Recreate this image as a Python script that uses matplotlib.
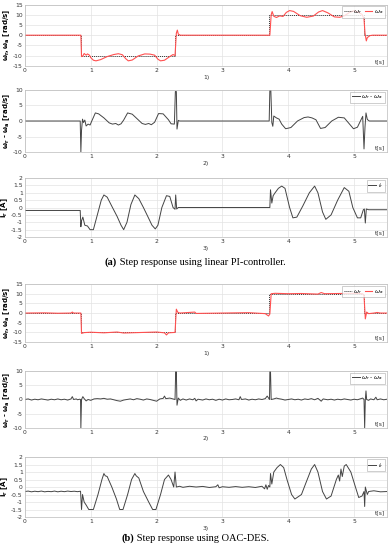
import numpy as np
import matplotlib
matplotlib.use("Agg")
import matplotlib.pyplot as plt

# reference speed (same for both experiments): (t, value) break points
w_ref = [(0, 0), (0.845, 0), (0.845, -10), (2.285, -10), (2.285, 0),
         (3.705, 0), (3.705, 10), (5.145, 10), (5.145, 0), (5.5, 0)]

# (a) linear PI-controller
wa_pi = [(0, 0), (0.85, 0), (0.86, -10.5), (0.88, -10.2), (0.9, -9), (0.93, -9.8),
         (0.95, -9.2), (0.98, -9.8), (1.0, -11), (1.04, -12.3), (1.08, -12.6),
         (1.15, -12.0), (1.25, -10.5), (1.35, -9.5), (1.42, -9.1), (1.48, -9.6),
         (1.53, -11.5), (1.57, -12.6), (1.63, -12.2), (1.72, -10.2), (1.82, -9.2),
         (1.9, -9.3), (1.97, -9.8), (2.02, -11.8), (2.06, -12.6), (2.12, -12.3),
         (2.2, -10.5), (2.25, -9.5), (2.28, -10), (2.3, 1), (2.315, 2.5), (2.33, 0.5),
         (2.36, 0), (3.72, 0), (3.74, 10), (3.755, 11.6), (3.78, 9.3), (3.82, 8.7),
         (3.87, 9.5), (3.92, 9.2), (3.97, 11.2), (4.02, 12.1), (4.08, 11.7),
         (4.18, 9.6), (4.28, 8.8), (4.38, 9.4), (4.46, 11.4), (4.52, 12.1),
         (4.6, 11.0), (4.7, 9.0), (4.78, 8.8), (4.85, 9.5), (4.93, 11.2),
         (5.0, 12.0), (5.07, 11.2), (5.12, 10.2), (5.15, 8), (5.165, 1),
         (5.185, -2.8), (5.2, -1.2), (5.24, -0.2), (5.28, 0), (5.5, 0)]

err_pi = [(0, 0), (0.84, 0), (0.85, -10), (0.86, -3), (0.875, 0.6), (0.89, -0.5),
          (0.91, 0.3), (0.93, -1.6), (0.96, -1.0), (0.99, -1.3), (1.02, 0.2),
          (1.07, 2.6), (1.12, 2.3), (1.2, 1.0), (1.28, -0.6), (1.33, -1.0),
          (1.38, -0.8), (1.42, -1.3), (1.46, -0.9), (1.5, 0.3), (1.56, 2.6),
          (1.63, 2.2), (1.72, 0.4), (1.78, -0.8), (1.83, -1.1), (1.88, -0.8),
          (1.92, -1.2), (1.97, -0.4), (2.03, 2.4), (2.1, 2.3), (2.18, 0.4),
          (2.22, -0.9), (2.27, -1.0), (2.285, 9.5), (2.3, 9.5), (2.31, -2.6),
          (2.33, 0.2), (2.35, 0), (3.71, 0), (3.72, 10), (3.735, 10), (3.75, -0.5),
          (3.765, -1.7), (3.78, 1.6), (3.82, 1.0), (3.86, 0.6), (3.9, -1.0),
          (3.96, -2.5), (4.04, -2.1), (4.14, 0.0), (4.24, 1.1), (4.3, 1.3),
          (4.36, 1.0), (4.42, 0.4), (4.49, -2.4), (4.56, -2.1), (4.66, 0.0),
          (4.76, 1.2), (4.85, 1.0), (4.93, -1.0), (4.99, -2.5), (5.05, -2.0),
          (5.1, 0.2), (5.13, 1.5), (5.15, -9), (5.165, -2), (5.18, 2.6), (5.2, 0.5),
          (5.23, 0), (5.5, 0)]

ir_pi = [(0, -0.2), (0.84, -0.2), (0.85, -1.3), (0.86, -0.9), (0.88, -0.65),
         (0.91, -1.2), (0.95, -1.25), (0.99, -1.5), (1.04, -1.5), (1.1, -0.5),
         (1.16, 0.5), (1.2, 0.85), (1.25, 0.7), (1.33, 0.0), (1.4, -0.6),
         (1.46, -1.2), (1.5, -1.5), (1.55, -1.0), (1.61, 0.2), (1.67, 0.85),
         (1.73, 0.6), (1.8, 0.0), (1.86, -0.55), (1.93, -1.2), (1.98, -1.45),
         (2.02, -1.2), (2.08, 0.0), (2.15, 0.8), (2.2, 0.75), (2.25, 0.0),
         (2.28, -0.12), (2.29, 0.85), (2.305, -0.1), (2.33, 0), (3.72, 0),
         (3.73, 1.2), (3.75, 0.3), (3.77, 0.8), (3.8, 1.0), (3.85, 1.3), (3.9, 1.45),
         (3.95, 1.3), (4.02, 0.0), (4.07, -0.7), (4.13, -0.65), (4.22, 0.1),
         (4.32, 1.0), (4.4, 1.45), (4.45, 1.0), (4.52, -0.3), (4.57, -0.8),
         (4.65, -0.5), (4.75, 0.5), (4.85, 1.35), (4.92, 1.1), (4.98, 0.0),
         (5.05, -0.7), (5.1, -0.7), (5.14, -0.15), (5.155, -0.1), (5.17, -1.05),
         (5.185, -0.1), (5.22, -0.15), (5.5, -0.15)]

# (b) OAC-DES
wa_oac = [(0, 0), (0.3, 0.1), (0.5, -0.1), (0.7, 0), (0.72, 0.5), (0.74, 0),
          (0.85, 0), (0.86, -10.5), (0.9, -10.1), (1.0, -9.9), (1.2, -10.2),
          (1.4, -9.8), (1.5, -10.3), (1.8, -10), (2.0, -9.8), (2.12, -10.2),
          (2.15, -11.3), (2.18, -10.2), (2.28, -10), (2.3, 2), (2.32, 0.5),
          (2.35, 0), (2.58, 0.5), (2.6, -0.2), (3.0, 0), (3.4, 0.2), (3.65, -0.3),
          (3.7, -1.5), (3.72, -0.5), (3.74, 10), (3.8, 10.2), (4.0, 10), (4.2, 10.1),
          (4.45, 9.8), (4.5, 10.6), (4.55, 10), (5.0, 10.2), (5.13, 10), (5.15, 9),
          (5.17, -3), (5.19, 0.5), (5.22, -0.3), (5.3, 0), (5.35, 0.3), (5.4, 0),
          (5.5, 0)]

err_oac = [(0, 0), (0.05, 0.2), (0.1, -0.2), (0.15, 0.1), (0.2, -0.1), (0.25, 0.2),
           (0.3, 0), (0.35, -0.2), (0.4, 0.1), (0.45, -0.1), (0.5, 0.2), (0.55, -0.1),
           (0.6, 0.1), (0.65, -0.2), (0.7, 0.2), (0.72, 1.0), (0.74, 0), (0.78, 0.2),
           (0.8, -0.1), (0.83, 0.1), (0.845, 0), (0.85, -10), (0.86, 0), (0.88, 1.0),
           (0.9, 0.3), (0.93, -0.5), (0.96, 0), (1.0, -0.3), (1.05, 0.2), (1.1, 0.3),
           (1.15, 0.2), (1.2, 0.4), (1.25, 0.1), (1.3, 0.2), (1.35, -0.1), (1.4, -0.4),
           (1.45, -0.6), (1.5, -0.2), (1.55, 0), (1.6, 0.2), (1.65, -0.1), (1.7, 0.3),
           (1.75, 0.1), (1.8, -0.2), (1.85, 0.2), (1.9, 0), (1.95, -0.3), (2.0, -0.6),
           (2.05, 0.2), (2.1, 0.4), (2.12, 1.2), (2.14, 0.3), (2.2, 0.5), (2.25, 0.2),
           (2.28, 0), (2.29, 10), (2.3, 10), (2.31, -2), (2.33, 0.5), (2.36, -0.3),
           (2.4, 0.2), (2.45, -0.2), (2.5, 0.2), (2.55, -0.1), (2.58, 0.4), (2.6, -0.5),
           (2.63, 0.1), (2.7, -0.2), (2.75, 0.2), (2.8, -0.1), (2.85, 0.1), (2.9, -0.3),
           (2.95, 0.1), (3.0, -0.2), (3.05, 0.2), (3.1, -0.1), (3.15, 0), (3.2, 0.2),
           (3.25, -0.1), (3.27, 1.0), (3.29, 0), (3.35, 0.2), (3.4, -0.2), (3.45, 0.1),
           (3.5, -0.1), (3.55, 0.2), (3.6, 0), (3.65, 0.3), (3.68, 1.2), (3.7, 0.5),
           (3.715, 0), (3.72, 10), (3.73, 10), (3.74, 0), (3.78, 0.2), (3.82, 0.5),
           (3.85, 0.3), (3.9, 0.1), (3.95, -0.2), (4.0, 0), (4.05, 0.2), (4.1, -0.1),
           (4.15, 0.1), (4.2, -0.2), (4.25, 0.2), (4.3, 0), (4.35, 0.3), (4.4, -0.1),
           (4.45, 0.4), (4.48, -0.2), (4.5, -0.6), (4.53, 0.2), (4.6, -0.1), (4.65, 0.1),
           (4.7, -0.2), (4.75, 0.1), (4.8, -0.1), (4.85, 0.2), (4.9, 0), (4.95, -0.2),
           (5.0, 0.1), (5.05, -0.1), (5.1, 0.3), (5.13, 0.5), (5.15, 0), (5.16, -10),
           (5.17, 0), (5.18, 3), (5.19, 0), (5.22, -0.3), (5.25, 0.2), (5.3, -0.1),
           (5.33, 0.8), (5.35, -0.1), (5.4, 0.2), (5.45, -0.1), (5.5, 0.1)]

ir_oac = [(0, -0.3), (0.05, -0.27), (0.1, -0.32), (0.15, -0.28), (0.2, -0.31),
          (0.25, -0.27), (0.3, -0.32), (0.35, -0.29), (0.4, -0.31), (0.45, -0.27),
          (0.5, -0.32), (0.55, -0.28), (0.6, -0.31), (0.65, -0.27), (0.7, -0.3),
          (0.75, -0.28), (0.8, -0.31), (0.845, -0.28), (0.86, -1.5), (0.875, -0.5),
          (0.9, -1.0), (0.93, -1.2), (0.97, -1.5), (1.04, -1.5), (1.11, -0.5),
          (1.17, 0.5), (1.2, 0.9), (1.22, 0.75), (1.25, 0.7), (1.32, 0.0),
          (1.39, -0.8), (1.44, -1.5), (1.49, -1.5), (1.56, -0.5), (1.62, 0.5),
          (1.67, 0.9), (1.69, 0.75), (1.73, 0.6), (1.8, -0.3), (1.88, -1.0),
          (1.94, -1.5), (1.99, -1.5), (2.06, -0.5), (2.12, 0.5), (2.18, 0.8),
          (2.22, 0.5), (2.26, 0.0), (2.28, 1.0), (2.3, 0.0), (2.35, 0.05),
          (2.4, -0.02), (2.5, 0.05), (2.6, 0.0), (2.7, 0.04), (2.8, -0.03),
          (2.9, 0.02), (2.93, 0.15), (2.95, -0.05), (3.0, 0.02), (3.1, -0.02),
          (3.2, 0.03), (3.3, -0.02), (3.4, 0.02), (3.5, -0.03), (3.6, 0.05),
          (3.64, -0.12), (3.66, 0.15), (3.68, -0.15), (3.7, 0.1), (3.72, 0.0),
          (3.73, 0.9), (3.75, 0.2), (3.78, 1.0), (3.83, 1.3), (3.88, 1.5),
          (3.93, 1.3), (3.98, 0.5), (4.05, -0.5), (4.1, -0.8), (4.2, -0.5),
          (4.27, 0.3), (4.35, 1.2), (4.4, 1.5), (4.45, 1.0), (4.52, -0.3),
          (4.58, -0.8), (4.65, -0.6), (4.73, 0.5), (4.76, 0.8), (4.78, 0.4),
          (4.8, 1.2), (4.82, 0.7), (4.85, 1.4), (4.88, 1.5), (4.95, 1.0),
          (5.02, 0.0), (5.07, -0.7), (5.12, -0.6), (5.15, -0.3), (5.16, -1.3),
          (5.17, 0.0), (5.2, -0.5), (5.22, -0.3), (5.3, -0.25), (5.4, -0.32),
          (5.5, -0.3)]

panels = [
    # (axes rect, kind, ylim, yticks)
    ([0.064, 0.8805, 0.931, 0.111], "speed", (-15, 15), [-15, -10, -5, 0, 5, 10, 15]),
    ([0.064, 0.7236, 0.931, 0.1128], "err", (-10, 10), [-10, -5, 0, 5, 10]),
    ([0.064, 0.569, 0.931, 0.1074], "cur", (-2, 2), np.arange(-2, 2.01, 0.5)),
    ([0.064, 0.378, 0.931, 0.1056], "speed", (-15, 15), [-15, -10, -5, 0, 5, 10, 15]),
    ([0.064, 0.2218, 0.931, 0.1037], "err", (-10, 10), [-10, -5, 0, 5, 10]),
    ([0.064, 0.06, 0.931, 0.109], "cur", (-2, 2), np.arange(-2, 2.01, 0.5)),
]
series = [wa_pi, err_pi, ir_pi, wa_oac, err_oac, ir_oac]
sub_labels = ["1)", "2)", "3)", "1)", "2)", "3)"]


def xy(points):
    arr = np.array(points, dtype=float)
    return arr[:, 0], arr[:, 1]


fig = plt.figure(figsize=(3.89, 5.5), dpi=100)
fs = 4.3
lab_fs = 5.0
leg_kw = dict(loc="upper right", fontsize=fs, handlelength=1.3, handletextpad=0.3,
              borderpad=0.3, borderaxespad=0.3, fancybox=False)
for (rect, kind, ylim, yticks), data, lab in zip(panels, series, sub_labels):
    ax = fig.add_axes(rect)
    if kind == "speed":
        t, v = xy(w_ref)
        ax.plot(t, v, color="#333333", lw=0.7, ls=(0, (1, 1)), label=r"$\omega_r$")
        t, v = xy(data)
        ax.plot(t, v, color="#ff5050", lw=0.8, label=r"$\omega_a$")
        ax.set_ylabel(r"$\mathbf{\omega_r, \omega_a}$ [rad/s]", fontsize=lab_fs,
                      fontweight="bold", labelpad=1)
        leg = ax.legend(ncol=2, columnspacing=0.4, **leg_kw)
    elif kind == "err":
        t, v = xy(data)
        ax.plot(t, v, color="#444444", lw=0.7, label=r"$\omega_r$ - $\omega_a$")
        ax.set_ylabel(r"$\mathbf{\omega_r}$ - $\mathbf{\omega_a}$ [rad/s]",
                      fontsize=lab_fs, fontweight="bold", labelpad=1)
        leg = ax.legend(**leg_kw)
    else:
        t, v = xy(data)
        ax.plot(t, v, color="#444444", lw=0.7, label=r"$i_r$")
        ax.set_ylabel(r"$\mathbf{i_r}$ [A]", fontsize=lab_fs, fontweight="bold",
                      labelpad=1)
        leg = ax.legend(**leg_kw)
    leg.get_frame().set_edgecolor("#aaaaaa")
    leg.get_frame().set_linewidth(0.5)
    ax.set_xlim(0, 5.5)
    ax.set_ylim(*ylim)
    ax.set_xticks([0, 1, 2, 3, 4, 5])
    ax.set_yticks(yticks)
    ax.set_yticklabels([f"{v:g}" for v in yticks])
    ax.tick_params(labelsize=fs, length=0, pad=1.5, colors="#333333")
    ax.grid(True, color="#e3e3e3", lw=0.5)
    ax.set_axisbelow(True)
    for sp in ax.spines.values():
        sp.set_color("#bbbbbb")
        sp.set_linewidth(0.5)
    ax.text(0.995, 0.03, "t[s]", transform=ax.transAxes, ha="right", va="bottom",
            fontsize=fs, color="#333333")
    ax.text(0.5, -0.19, lab, transform=ax.transAxes, ha="center", va="center",
            fontsize=fs, color="#333333")

# captions: bold tag followed by plain text, centred as a whole
cap_font = "Liberation Serif"
cap_fs = 7.5
renderer = fig.canvas.get_renderer()
for y0, tag, rest in [(0.5236, "(a)", " Step response using linear PI-controller."),
                      (0.0218, "(b)", " Step response using OAC-DES.")]:
    t1 = fig.text(0, y0, tag, fontsize=cap_fs, fontweight="bold", family=cap_font,
                  ha="left", va="center")
    t2 = fig.text(0, y0, rest, fontsize=cap_fs, family=cap_font, ha="left", va="center")
    w1 = t1.get_window_extent(renderer).width
    w2 = t2.get_window_extent(renderer).width
    x_start = 195 - (w1 + w2) / 2
    t1.set_x(x_start / fig.bbox.width)
    t2.set_x((x_start + w1) / fig.bbox.width)

fig.savefig("out.png", dpi=100)
